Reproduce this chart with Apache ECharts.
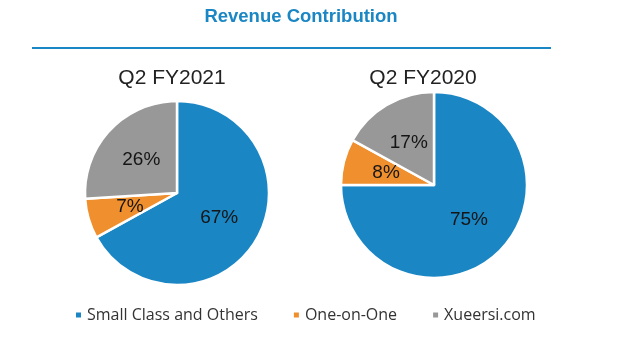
<!DOCTYPE html>
<html>
<head>
<meta charset="utf-8">
<script src="https://cdn.jsdelivr.net/npm/echarts@6/dist/echarts.min.js"></script>
<style>
  html, body { margin: 0; padding: 0; background: #fff; }
  #chart { width: 630px; height: 354px; }
</style>
</head>
<body>
<div id="chart"></div>
<script>
const categories = ['Small Class and Others', 'One-on-One', 'Xueersi.com']
const periods = ['Q2 FY2021', 'Q2 FY2020']
const shareFY2021 = [67, 7, 26]
const shareFY2020 = [75, 8, 17]

const colors = ['#1a86c4', '#ef8f2d', '#989898']

const chart = echarts.init(document.getElementById('chart'))

function pieSeries(values, center, radius) {
  return {
    type: 'pie',
    center: center,
    radius: radius,
    startAngle: 90,
    clockwise: true,
    avoidLabelOverlap: false,
    itemStyle: {
      borderColor: '#fff',
      borderWidth: 2.5
    },
    label: {
      show: true,
      position: 'inside',
      formatter: '{c}%',
      color: '#151515',
      fontSize: 19,
      fontFamily: 'Liberation Sans'
    },
    labelLine: { show: false },
    emphasis: { disabled: true },
    data: categories.map((name, i) => ({ name: name, value: values[i] }))
  }
}

const option = {
  color: colors,
  title: [
    {
      text: 'Revenue Contribution',
      left: 296,
      top: 2,
      textAlign: 'center',
      textStyle: { color: '#1a86c4', fontSize: 18.5, fontWeight: 'bold', fontFamily: 'Liberation Sans' }
    },
    {
      text: periods[0],
      left: 167,
      top: 63,
      textAlign: 'center',
      textStyle: { color: '#222', fontSize: 21, fontWeight: 'normal', fontFamily: 'Liberation Sans' }
    },
    {
      text: periods[1],
      left: 418,
      top: 63,
      textAlign: 'center',
      textStyle: { color: '#222', fontSize: 21, fontWeight: 'normal', fontFamily: 'Liberation Sans' }
    }
  ],
  graphic: [
    {
      type: 'line',
      shape: { x1: 32, y1: 48, x2: 551, y2: 48 },
      style: { stroke: '#1a86c4', lineWidth: 2 }
    }
  ],
  legend: {
    data: categories,
    left: 69,
    top: 302,
    icon: 'rect',
    itemWidth: 7,
    itemHeight: 7,
    itemGap: 34,
    textStyle: { color: '#333', fontSize: 16, fontFamily: 'Open Sans' }
  },
  series: [
    pieSeries(shareFY2021, [177, 193], 92),
    pieSeries(shareFY2020, [434, 185], 93)
  ]
}

chart.setOption(option)
</script>
</body>
</html>
